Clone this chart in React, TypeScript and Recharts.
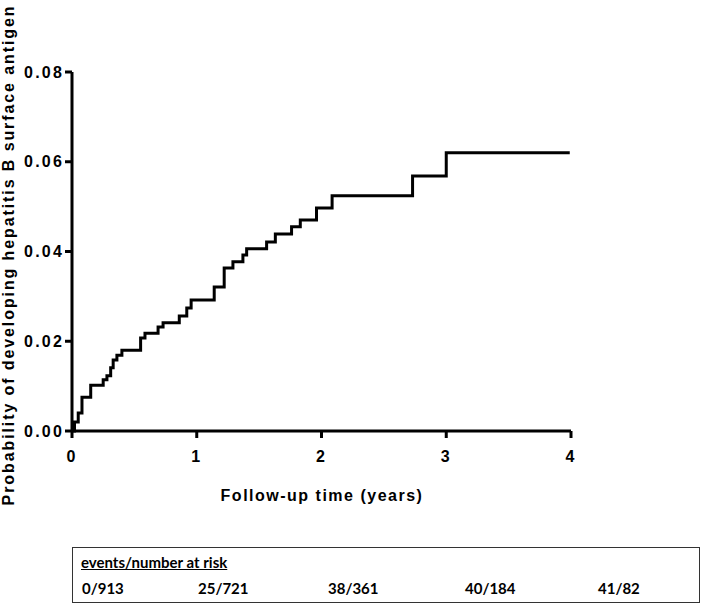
import { LineChart, Line, XAxis, YAxis } from "recharts";

const years = [0, 0.02, 0.05, 0.08, 0.15, 0.25, 0.28, 0.31, 0.33, 0.36, 0.4, 0.55, 0.585, 0.69, 0.73, 0.86, 0.92, 0.955, 1.14, 1.22, 1.29, 1.37, 1.4, 1.56, 1.63, 1.76, 1.83, 1.96, 2.085, 2.73, 3.0, 3.99];
const probability = [0, 0.002, 0.004, 0.0075, 0.0102, 0.0114, 0.0123, 0.0141, 0.0158, 0.0169, 0.018, 0.0207, 0.0218, 0.0232, 0.0241, 0.0256, 0.0274, 0.0292, 0.0321, 0.0363, 0.0377, 0.0392, 0.0406, 0.0421, 0.0439, 0.0455, 0.047, 0.0497, 0.0524, 0.0568, 0.062, 0.062];

const xTicks = [0, 1, 2, 3, 4];
const yTicks = [0, 0.02, 0.04, 0.06, 0.08];
const atRisk = ["0/913", "25/721", "38/361", "40/184", "41/82"];
const atRiskLeft = [9, 125, 255, 392, 525];

const data = years.map((t, i) => ({ t, p: probability[i] }));

const font = "'Liberation Sans', Arial, sans-serif";
const tickStyle = { fill: "#000", fontSize: 16, fontWeight: "bold", letterSpacing: 2.2, fontFamily: font };

export default function App() {
  return (
    <div style={{ position: "absolute", left: 0, top: 0, width: 709, height: 610, background: "#fff" }}>
      <LineChart width={709} height={540} data={data} margin={{ top: 72, right: 138, bottom: 49, left: 0 }}>
        <XAxis
          dataKey="t"
          type="number"
          domain={[0, 4]}
          ticks={xTicks}
          tick={tickStyle}
          tickSize={7}
          tickMargin={13}
          height={60}
          axisLine={{ stroke: "#000", strokeWidth: 3 }}
          tickLine={{ stroke: "#000", strokeWidth: 3 }}
          label={{
            content: () => (
              <text x={322} y={501} textAnchor="middle" fill="#000" fontSize={16} fontWeight="bold" letterSpacing={1.5} fontFamily={font}>
                Follow-up time (years)
              </text>
            ),
          }}
        />
        <YAxis
          dataKey="p"
          type="number"
          domain={[0, 0.08]}
          ticks={yTicks}
          tickFormatter={(v: number) => v.toFixed(2)}
          tick={tickStyle}
          tickSize={7}
          tickMargin={1}
          width={72}
          axisLine={{ stroke: "#000", strokeWidth: 3 }}
          tickLine={{ stroke: "#000", strokeWidth: 3 }}
          label={{
            content: () => (
              <text x={14} y={255} transform="rotate(-90, 14, 255)" textAnchor="middle" fill="#000" fontSize={16} fontWeight="bold" letterSpacing={1.9} fontFamily={font}>
                Probability of developing hepatitis B surface antigen
              </text>
            ),
          }}
        />
        <Line type="stepAfter" dataKey="p" stroke="#000" strokeWidth={3} dot={false} isAnimationActive={false} />
      </LineChart>
      <div
        style={{
          position: "absolute",
          left: 72,
          top: 547,
          width: 628,
          height: 56,
          border: "1px solid #333",
          boxSizing: "border-box",
          fontFamily: "Lato, 'Noto Sans', sans-serif",
          fontWeight: "bold",
          fontSize: 15,
          color: "#000",
        }}
      >
        <div style={{ position: "absolute", left: 8, top: 5, textDecoration: "underline" }}>events/number at risk</div>
        {atRisk.map((s, i) => (
          <div key={s} style={{ position: "absolute", left: atRiskLeft[i], top: 31 }}>
            {s}
          </div>
        ))}
      </div>
    </div>
  );
}
